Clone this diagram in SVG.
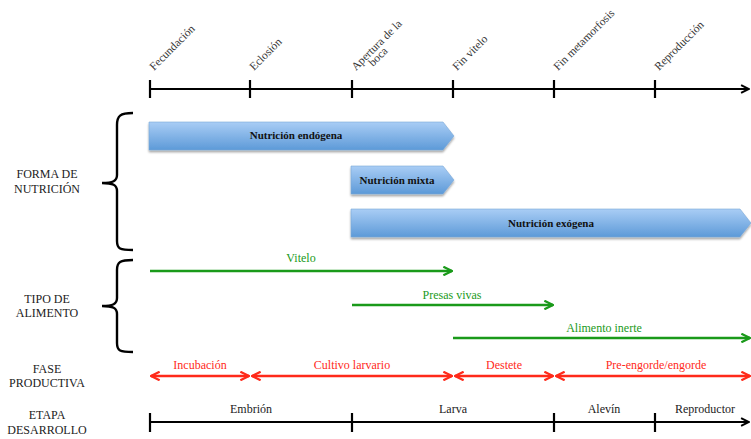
<svg xmlns="http://www.w3.org/2000/svg" width="751" height="439" viewBox="0 0 751 439" font-family="'Liberation Serif', 'DejaVu Serif', serif">
  <defs>
    <style>
      .lbl { font-size: 12px; fill: #222; text-anchor: middle; }
      .tick-lbl { font-size: 11.5px; fill: #333; }
      .bar-lbl { font-size: 11px; font-weight: bold; fill: #111; text-anchor: middle; }
      .grn-lbl { font-size: 12px; fill: #1a9a1a; text-anchor: middle; }
      .red-lbl { font-size: 12px; fill: #ff2a1a; text-anchor: middle; }
      .axis { stroke: #000; stroke-width: 2.2; fill: none; }
      .grn { stroke: #1a9a1a; stroke-width: 2.4; fill: none; }
      .red { stroke: #ff2a1a; stroke-width: 2.4; fill: none; }
      .brace { stroke: #000; stroke-width: 2.4; fill: none; }
      .bar { fill: url(#barGrad); stroke: #7aa7d6; stroke-width: 0.6; filter: url(#shadow); }
    </style>
    <linearGradient id="barGrad" x1="0" y1="0" x2="0" y2="1">
      <stop offset="0" stop-color="#a9cdf5"/>
      <stop offset="1" stop-color="#5d9ad8"/>
    </linearGradient>
    <filter id="shadow" x="-5%" y="-20%" width="110%" height="160%">
      <feDropShadow dx="0" dy="2" stdDeviation="1.2" flood-color="#000" flood-opacity="0.35"/>
    </filter>
    <marker id="ahBlack" viewBox="0 0 10 10" refX="9" refY="5" markerWidth="4.5" markerHeight="4.5" orient="auto" markerUnits="strokeWidth">
      <path d="M1,1 L9,5 L1,9" fill="none" stroke="#000" stroke-width="2"/>
    </marker>
    <marker id="ahGreen" viewBox="0 0 10 10" refX="9" refY="5" markerWidth="4.5" markerHeight="4.5" orient="auto" markerUnits="strokeWidth">
      <path d="M1,1 L9,5 L1,9" fill="none" stroke="#1a9a1a" stroke-width="2"/>
    </marker>
    <marker id="ahRed" viewBox="0 0 10 10" refX="9" refY="5" markerWidth="4.5" markerHeight="4.5" orient="auto-start-reverse" markerUnits="strokeWidth">
      <path d="M1,1 L9,5 L1,9" fill="none" stroke="#ff2a1a" stroke-width="2"/>
    </marker>
  </defs>

  <rect width="751" height="439" fill="#fff"/>

  <!-- Top time axis with milestones -->
  <g id="time-axis">
    <line class="axis" x1="150" y1="89" x2="749" y2="89" marker-end="url(#ahBlack)"/>
    <g class="axis">
      <line x1="150" y1="80" x2="150" y2="98"/>
      <line x1="250" y1="80" x2="250" y2="98"/>
      <line x1="352" y1="80" x2="352" y2="98"/>
      <line x1="453" y1="80" x2="453" y2="98"/>
      <line x1="554" y1="80" x2="554" y2="98"/>
      <line x1="655" y1="80" x2="655" y2="98"/>
    </g>
    <text class="tick-lbl" transform="translate(154,71) rotate(-45)">Fecundación</text>
    <text class="tick-lbl" transform="translate(254,71) rotate(-45)">Eclosión</text>
    <text class="tick-lbl" transform="translate(356,71) rotate(-45)">Apertura de la</text>
    <text class="tick-lbl" transform="translate(373,67) rotate(-45)">boca</text>
    <text class="tick-lbl" transform="translate(457,71) rotate(-45)">Fin vitelo</text>
    <text class="tick-lbl" transform="translate(558,71) rotate(-45)">Fin metamorfosis</text>
    <text class="tick-lbl" transform="translate(659,71) rotate(-45)">Reproducción</text>
  </g>

  <!-- Row labels and braces -->
  <g id="forma-nutricion">
    <text class="lbl" x="47" y="178">FORMA DE</text>
    <text class="lbl" x="47" y="193">NUTRICIÓN</text>
    <path class="brace" d="M133,113 C120,113 117,116 117,125 L117,175 C117,181 113,183 102,183 C113,183 117,185 117,191 L117,241 C117,249 120,250 133,250"/>
  </g>
  <g id="tipo-alimento">
    <text class="lbl" x="47" y="303">TIPO DE</text>
    <text class="lbl" x="47" y="317">ALIMENTO</text>
    <path class="brace" d="M133,260 C120,260 117,262 117,270 L117,298 C117,304 113,306 102,306 C113,306 117,308 117,314 L117,343 C117,351 120,352 133,352"/>
  </g>
  <g id="fase-productiva">
    <text class="lbl" x="47" y="373">FASE</text>
    <text class="lbl" x="47" y="387">PRODUCTIVA</text>
  </g>
  <g id="etapa-desarrollo">
    <text class="lbl" x="47" y="419">ETAPA</text>
    <text class="lbl" x="47" y="434">DESARROLLO</text>
  </g>

  <!-- Nutrition bars -->
  <g id="nutricion-endogena">
    <path class="bar" d="M149,122 L443,122 L454,136 L443,150 L149,150 Z"/>
    <text class="bar-lbl" x="296" y="139">Nutrición endógena</text>
  </g>
  <g id="nutricion-mixta">
    <path class="bar" d="M351,166 L443,166 L454,180 L443,194 L351,194 Z"/>
    <text class="bar-lbl" x="397" y="184">Nutrición mixta</text>
  </g>
  <g id="nutricion-exogena">
    <path class="bar" d="M351,209 L740,209 L751,223 L740,237 L351,237 Z"/>
    <text class="bar-lbl" x="551" y="227">Nutrición exógena</text>
  </g>

  <!-- Food type arrows -->
  <g id="connectors-alimento">
    <line class="grn" x1="150" y1="271" x2="452" y2="271" marker-end="url(#ahGreen)"/>
    <line class="grn" x1="352" y1="305" x2="553" y2="305" marker-end="url(#ahGreen)"/>
    <line class="grn" x1="453" y1="338" x2="750" y2="338" marker-end="url(#ahGreen)"/>
  </g>
  <g id="labels-alimento">
    <text class="grn-lbl" x="301" y="262">Vitelo</text>
    <text class="grn-lbl" x="452" y="299">Presas vivas</text>
    <text class="grn-lbl" x="604" y="332">Alimento inerte</text>
  </g>

  <!-- Production phase double arrows -->
  <g id="connectors-fase">
    <line class="red" x1="151" y1="376" x2="249" y2="376" marker-start="url(#ahRed)" marker-end="url(#ahRed)"/>
    <line class="red" x1="252" y1="376" x2="452" y2="376" marker-start="url(#ahRed)" marker-end="url(#ahRed)"/>
    <line class="red" x1="455" y1="376" x2="553" y2="376" marker-start="url(#ahRed)" marker-end="url(#ahRed)"/>
    <line class="red" x1="556" y1="376" x2="750" y2="376" marker-start="url(#ahRed)" marker-end="url(#ahRed)"/>
  </g>
  <g id="labels-fase">
    <text class="red-lbl" x="200" y="369">Incubación</text>
    <text class="red-lbl" x="352" y="369">Cultivo larvario</text>
    <text class="red-lbl" x="504" y="369">Destete</text>
    <text class="red-lbl" x="656" y="369">Pre-engorde/engorde</text>
  </g>

  <!-- Development stage axis -->
  <g id="stage-axis">
    <line class="axis" x1="150" y1="422" x2="749" y2="422" marker-end="url(#ahBlack)"/>
    <g class="axis">
      <line x1="150" y1="413" x2="150" y2="432"/>
      <line x1="352" y1="413" x2="352" y2="432"/>
      <line x1="554" y1="413" x2="554" y2="432"/>
      <line x1="655" y1="413" x2="655" y2="432"/>
    </g>
    <text class="lbl" x="251" y="413">Embrión</text>
    <text class="lbl" x="453" y="413">Larva</text>
    <text class="lbl" x="604" y="413">Alevín</text>
    <text class="lbl" x="705" y="413">Reproductor</text>
  </g>
</svg>
